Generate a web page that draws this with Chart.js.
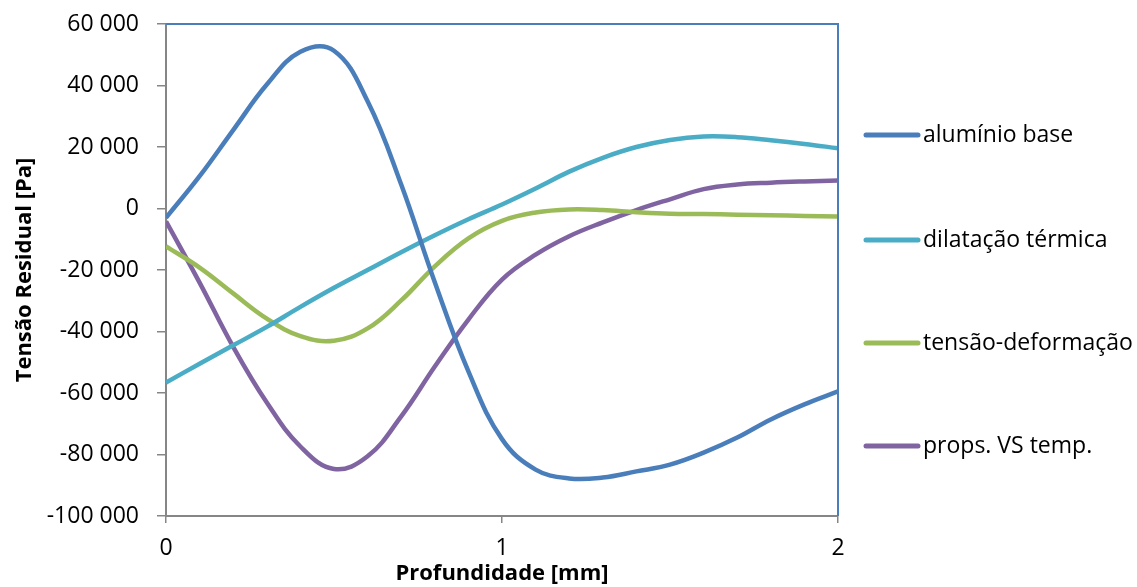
<!DOCTYPE html>
<html>
<head>
<meta charset="utf-8">
<script src="https://cdn.jsdelivr.net/npm/chart.js@4/dist/chart.umd.min.js"></script>
<style>
  html, body { margin: 0; padding: 0; background: #fff; }
  #wrap { width: 1137px; height: 587px; }
</style>
</head>
<body>
<div id="wrap"><canvas id="myChart"></canvas></div>
<script>
// Profundidade [mm]
const depth = [0, 0.1, 0.2, 0.3, 0.4, 0.5, 0.6, 0.7, 0.8, 0.9, 1.0, 1.1, 1.2, 1.3, 1.4, 1.5, 1.6, 1.7, 1.8, 1.9, 2.0];

// Tensão residual [Pa] por série
const aluminioBase = [-3000, 10500, 25500, 40300, 51000, 51300, 34900, 7800, -24000, -53000, -75000, -84900, -87800, -87500, -85500, -83300, -79400, -74500, -68600, -63700, -59500];
const dilatacaoTermica = [-56600, -50500, -44500, -38500, -32000, -25800, -20000, -14200, -8700, -3500, 1300, 6500, 12000, 16500, 20000, 22300, 23400, 23200, 22200, 21000, 19600];
const tensaoDeformacao = [-12300, -19200, -27600, -35800, -41500, -43000, -39000, -29900, -18800, -9700, -4000, -1300, -300, -500, -1200, -1700, -1800, -2000, -2200, -2400, -2600];
const propsVsTemp = [-4200, -24100, -45000, -63100, -77400, -84700, -80600, -67600, -51400, -36100, -23100, -15000, -9000, -4500, -500, 3000, 6300, 7800, 8400, 8800, 9100];

const seriesNames = ['alumínio base', 'dilatação térmica', 'tensão-deformação', 'props. VS temp.'];
const seriesColors = ['#4a7ebb', '#4bacc6', '#9bbb59', '#8064a2'];
const yTicks = [60000, 40000, 20000, 0, -20000, -40000, -60000, -80000, -100000];

const FONT = '"Open Sans", sans-serif';

function pts(values) {
    return depth.map((d, i) => ({ x: d, y: values[i] }));
}

function fmt(v) {
    const s = Math.abs(v).toString().replace(/\B(?=(\d{3})+(?!\d))/g, ' ');
    return (v < 0 ? '-' : '') + s;
}

// borda azul em cima e à direita + legenda à direita
const extras = {
    id: 'extras',
    afterDatasetsDraw(chart) {
        const { ctx, chartArea: a } = chart;
        ctx.save();
        ctx.strokeStyle = '#4a7ebb';
        ctx.lineWidth = 2;
        ctx.beginPath();
        ctx.moveTo(a.left, a.top);
        ctx.lineTo(a.right, a.top);
        ctx.lineTo(a.right, a.bottom);
        ctx.stroke();

        const ys = [135, 240, 343, 446];
        ctx.font = '23px ' + FONT;
        ctx.textBaseline = 'middle';
        ctx.fillStyle = '#000';
        chart.data.datasets.forEach((ds, i) => {
            ctx.strokeStyle = ds.borderColor;
            ctx.lineWidth = 5;
            ctx.lineCap = 'round';
            ctx.beginPath();
            ctx.moveTo(866, ys[i]);
            ctx.lineTo(918, ys[i]);
            ctx.stroke();
            ctx.fillText(ds.label, 923, ys[i]);
        });
        ctx.restore();
    }
};

const data = {
    datasets: [aluminioBase, dilatacaoTermica, tensaoDeformacao, propsVsTemp].map((vals, i) => ({
        label: seriesNames[i],
        data: pts(vals),
        borderColor: seriesColors[i],
        backgroundColor: seriesColors[i],
        borderWidth: 4.5,
        pointRadius: 0,
        tension: 0.4,
        fill: false
    }))
};

const config = {
    type: 'line',
    data: data,
    options: {
        responsive: false,
        animation: false,
        layout: { padding: { top: 24, right: 299, left: 0, bottom: 0 } },
        plugins: {
            legend: { display: false },
            tooltip: { enabled: false }
        },
        scales: {
            x: {
                type: 'linear',
                min: 0,
                max: 2,
                grid: { display: true, drawOnChartArea: false, color: '#868686', tickLength: 7, lineWidth: 1.5 },
                border: { color: '#868686', width: 2 },
                ticks: {
                    stepSize: 1,
                    color: '#000',
                    padding: 12,
                    font: { size: 23, family: FONT }
                },
                title: {
                    display: true,
                    text: 'Profundidade [mm]',
                    color: '#000',
                    padding: { top: 0, bottom: 0 },
                    font: { size: 22, weight: 'bold', family: FONT }
                },
                afterFit(scale) {
                    scale.height = 71;
                    scale.paddingLeft = 0;
                    scale.paddingRight = 0;
                }
            },
            y: {
                min: -100000,
                max: 60000,
                afterBuildTicks(scale) { scale.ticks = yTicks.map(v => ({ value: v })); },
                grid: { display: true, drawOnChartArea: false, color: '#868686', tickLength: 9, lineWidth: 1.5 },
                border: { color: '#868686', width: 2 },
                ticks: {
                    color: '#000',
                    padding: 18,
                    font: { size: 23, family: FONT },
                    callback: v => fmt(v)
                },
                title: {
                    display: true,
                    text: 'Tensão Residual [Pa]',
                    color: '#000',
                    padding: { top: 12, bottom: 0 },
                    font: { size: 22, weight: 'bold', family: FONT }
                },
                afterFit(scale) {
                    scale.width = 166;
                    scale.paddingTop = 0;
                    scale.paddingBottom = 0;
                }
            }
        }
    },
    plugins: [extras]
};

const canvas = document.getElementById('myChart');
canvas.width = 1137;
canvas.height = 587;
new Chart(canvas.getContext('2d'), config);
</script>
</body>
</html>
